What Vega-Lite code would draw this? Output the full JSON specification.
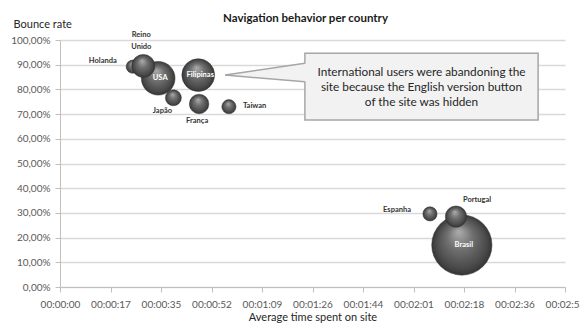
{
  "$schema": "https://vega.github.io/schema/vega-lite/v6.json",
  "width": 505,
  "height": 247,
  "autosize": {"type": "none"},
  "padding": {"left": 60, "top": 40, "right": 15, "bottom": 49},
  "background": "white",
  "title": {
    "text": "Navigation behavior per country",
    "font": "Lato",
    "fontSize": 11.5,
    "fontWeight": "bold",
    "color": "#1a1a1a",
    "anchor": "middle",
    "frame": "group",
    "dx": -7,
    "dy": 22,
    "offset": 16
  },
  "config": {
    "view": {"stroke": null},
    "font": "Lato",
    "text": {"font": "Lato", "fontSize": 7.5, "fontWeight": "bold", "color": "#333333"}
  },
  "datasets": {
    "countries": [
      {"country": "Brasil", "time": 137.5, "bounce": 0.17, "visits": 11560},
      {"country": "USA", "time": 33.6, "bounce": 0.845, "visits": 3610},
      {"country": "Filipinas", "time": 47.3, "bounce": 0.858, "visits": 3420},
      {"country": "Holanda", "time": 24.9, "bounce": 0.892, "visits": 560},
      {"country": "Reino Unido", "time": 28.5, "bounce": 0.895, "visits": 1690},
      {"country": "Japão", "time": 38.8, "bounce": 0.766, "visits": 810},
      {"country": "França", "time": 47.6, "bounce": 0.741, "visits": 1210},
      {"country": "Taiwan", "time": 57.8, "bounce": 0.73, "visits": 640},
      {"country": "Espanha", "time": 126.6, "bounce": 0.296, "visits": 640},
      {"country": "Portugal", "time": 135.5, "bounce": 0.285, "visits": 1440}
    ],
    "pointer": [
      {"time": 56.5, "upper": 0.858, "lower": 0.858},
      {"time": 84.6, "upper": 0.906, "lower": 0.831}
    ]
  },
  "layer": [
    {
      "data": {"name": "countries"},
      "mark": {
        "type": "circle",
        "opacity": 1,
        "fill": {
          "gradient": "radial",
          "x1": 0.45, "y1": 0.28, "r1": 0.02,
          "x2": 0.5, "y2": 0.5, "r2": 0.5,
          "stops": [
            {"offset": 0, "color": "#a8a8a8"},
            {"offset": 0.4, "color": "#707070"},
            {"offset": 0.85, "color": "#484848"},
            {"offset": 1, "color": "#353535"}
          ]
        },
        "stroke": "#353535",
        "strokeWidth": 0.5
      },
      "encoding": {
        "x": {
          "field": "time",
          "type": "quantitative",
          "scale": {"domain": [0, 172.8], "nice": false, "zero": true},
          "axis": {
            "title": "Average time spent on site",
            "values": [0, 17.28, 34.56, 51.84, 69.12, 86.4, 103.68, 120.96, 138.24, 155.52, 172.8],
            "tickCount": 20,
            "labelExpr": "'00:0' + floor(round(datum.value) / 60) + ':' + (round(datum.value) % 60 < 10 ? '0' : '') + (round(datum.value) % 60)",
            "grid": false,
            "domainColor": "#bfbfbf",
            "tickColor": "#bfbfbf",
            "tickSize": 5,
            "labelFont": "Lato",
            "labelFontSize": 10,
            "labelColor": "#595959",
            "labelPadding": 7,
            "labelOverlap": false,
            "labelFlush": false,
            "titleFont": "Lato",
            "titleFontSize": 11,
            "titleFontWeight": "normal",
            "titleColor": "#262626",
            "titleY": 30,
            "titleBaseline": "middle"
          }
        },
        "y": {
          "field": "bounce",
          "type": "quantitative",
          "scale": {"domain": [0, 1], "nice": false},
          "axis": {
            "title": "Bounce rate",
            "values": [0, 0.1, 0.2, 0.3, 0.4, 0.5, 0.6, 0.7, 0.8, 0.9, 1],
            "tickCount": 20,
            "labelExpr": "replace(format(datum.value, '.2%'), '.', ',')",
            "labelOverlap": false,
            "grid": true,
            "gridColor": "#d9d9d9",
            "gridWidth": 1.3,
            "domainColor": "#bfbfbf",
            "tickColor": "#bfbfbf",
            "tickSize": 5,
            "labelFont": "Lato",
            "labelFontSize": 10,
            "labelColor": "#595959",
            "labelPadding": 5,
            "titleAngle": 0,
            "titleAlign": "left",
            "titleBaseline": "middle",
            "titleX": -47,
            "titleY": -16,
            "titleFont": "Lato",
            "titleFontSize": 11,
            "titleFontWeight": "normal",
            "titleColor": "#262626"
          }
        },
        "size": {
          "field": "visits",
          "type": "quantitative",
          "scale": {"domain": [0, 11560], "range": [0, 3632]},
          "legend": null
        }
      }
    },
    {
      "data": {"name": "countries"},
      "transform": [{"filter": "datum.country == 'Holanda'"}],
      "mark": {"type": "text", "align": "right", "baseline": "middle", "dx": -16, "dy": -6},
      "encoding": {"x": {"field": "time", "type": "quantitative"}, "y": {"field": "bounce", "type": "quantitative"}, "text": {"field": "country"}}
    },
    {
      "data": {"name": "countries"},
      "transform": [{"filter": "datum.country == 'Reino Unido'"}],
      "mark": {"type": "text", "align": "center", "baseline": "middle", "lineBreak": " ", "lineHeight": 11.7, "dx": -2, "dy": -31},
      "encoding": {"x": {"field": "time", "type": "quantitative"}, "y": {"field": "bounce", "type": "quantitative"}, "text": {"field": "country"}}
    },
    {
      "data": {"name": "countries"},
      "transform": [{"filter": "datum.country == 'USA' || datum.country == 'Filipinas' || datum.country == 'Brasil'"}],
      "mark": {"type": "text", "align": "center", "baseline": "middle", "color": "white", "dx": 2},
      "encoding": {"x": {"field": "time", "type": "quantitative"}, "y": {"field": "bounce", "type": "quantitative"}, "text": {"field": "country"}}
    },
    {
      "data": {"name": "countries"},
      "transform": [{"filter": "datum.country == 'Japão'"}],
      "mark": {"type": "text", "align": "center", "baseline": "middle", "dx": -11, "dy": 13},
      "encoding": {"x": {"field": "time", "type": "quantitative"}, "y": {"field": "bounce", "type": "quantitative"}, "text": {"field": "country"}}
    },
    {
      "data": {"name": "countries"},
      "transform": [{"filter": "datum.country == 'França'"}],
      "mark": {"type": "text", "align": "center", "baseline": "middle", "dx": -2, "dy": 17},
      "encoding": {"x": {"field": "time", "type": "quantitative"}, "y": {"field": "bounce", "type": "quantitative"}, "text": {"field": "country"}}
    },
    {
      "data": {"name": "countries"},
      "transform": [{"filter": "datum.country == 'Taiwan'"}],
      "mark": {"type": "text", "align": "left", "baseline": "middle", "dx": 14, "dy": -1},
      "encoding": {"x": {"field": "time", "type": "quantitative"}, "y": {"field": "bounce", "type": "quantitative"}, "text": {"field": "country"}}
    },
    {
      "data": {"name": "countries"},
      "transform": [{"filter": "datum.country == 'Espanha'"}],
      "mark": {"type": "text", "align": "right", "baseline": "middle", "dx": -19, "dy": -4},
      "encoding": {"x": {"field": "time", "type": "quantitative"}, "y": {"field": "bounce", "type": "quantitative"}, "text": {"field": "country"}}
    },
    {
      "data": {"name": "countries"},
      "transform": [{"filter": "datum.country == 'Portugal'"}],
      "mark": {"type": "text", "align": "left", "baseline": "middle", "dx": 7, "dy": -17},
      "encoding": {"x": {"field": "time", "type": "quantitative"}, "y": {"field": "bounce", "type": "quantitative"}, "text": {"field": "country"}}
    },
    {
      "data": {"values": [{}]},
      "mark": {"type": "rect", "fill": "#f2f2f2", "stroke": "#a6a6a6", "strokeWidth": 1.5},
      "encoding": {
        "x": {"datum": 83.8, "type": "quantitative"},
        "x2": {"datum": 163.6},
        "y": {"datum": 0.946, "type": "quantitative"},
        "y2": {"datum": 0.676}
      }
    },
    {
      "data": {"name": "pointer"},
      "mark": {"type": "area", "fill": "#f2f2f2", "opacity": 1},
      "encoding": {
        "x": {"field": "time", "type": "quantitative"},
        "y": {"field": "upper", "type": "quantitative"},
        "y2": {"field": "lower"}
      }
    },
    {
      "data": {"values": [{}]},
      "mark": {"type": "rule", "stroke": "#a6a6a6", "strokeWidth": 1.5},
      "encoding": {
        "x": {"datum": 56.5, "type": "quantitative"},
        "y": {"datum": 0.858, "type": "quantitative"},
        "x2": {"datum": 83.8},
        "y2": {"datum": 0.906}
      }
    },
    {
      "data": {"values": [{}]},
      "mark": {"type": "rule", "stroke": "#a6a6a6", "strokeWidth": 1.5},
      "encoding": {
        "x": {"datum": 56.5, "type": "quantitative"},
        "y": {"datum": 0.858, "type": "quantitative"},
        "x2": {"datum": 83.8},
        "y2": {"datum": 0.831}
      }
    },
    {
      "data": {"values": [{}]},
      "mark": {"type": "text", "align": "center", "baseline": "middle", "fontSize": 11.8, "fontWeight": "normal", "color": "#262626", "lineHeight": 15},
      "encoding": {
        "x": {"datum": 123.7, "type": "quantitative"},
        "y": {"datum": 0.872, "type": "quantitative"},
        "text": {"value": ["International users were abandoning the", "site because the English version button", "of the site was hidden"]}
      }
    }
  ]
}
